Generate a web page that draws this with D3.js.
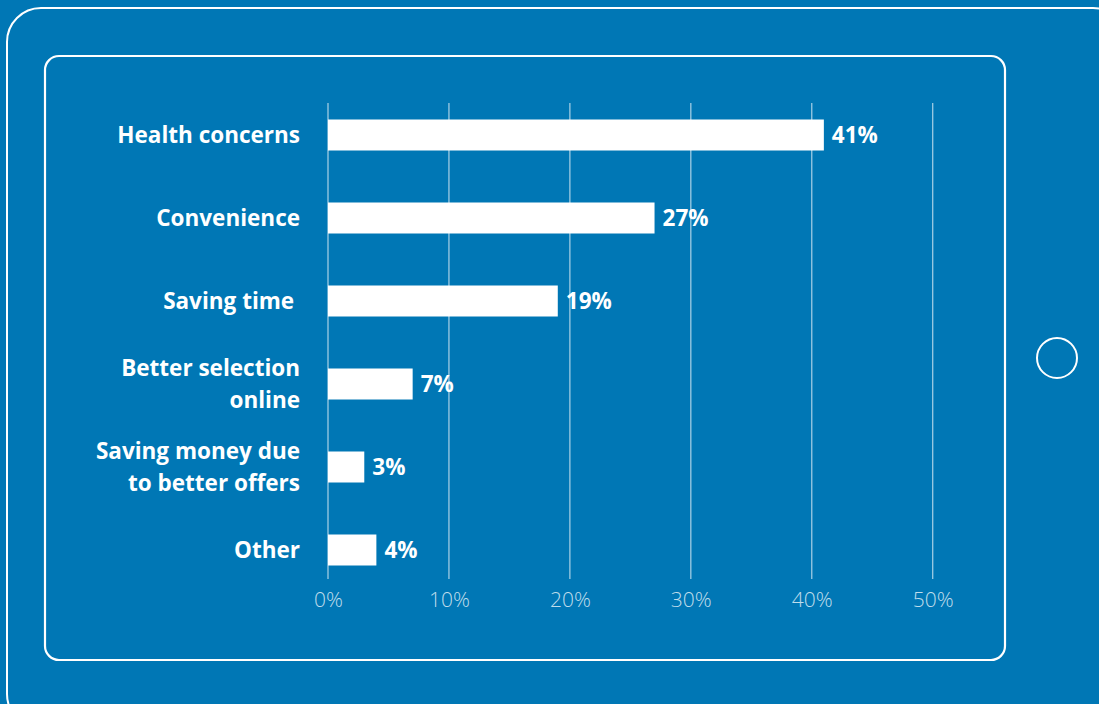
<!DOCTYPE html>
<html>
<head>
<meta charset="utf-8">
<script src="https://cdn.jsdelivr.net/npm/d3@7"></script>
<style>
  html, body { margin: 0; padding: 0; background: #0077b5; }
  svg { display: block; }
  text { font-family: "Open Sans", "Noto Sans", sans-serif; }
</style>
</head>
<body>
<svg id="chart" width="1099" height="704"></svg>
<script>
// Reasons for shopping online (share of respondents, %)
const categories = [
  ["Health concerns"],
  ["Convenience"],
  ["Saving time "],
  ["Better selection", "online"],
  ["Saving money due", "to better offers"],
  ["Other"]
];
const values = [41, 27, 19, 7, 3, 4];
const tickValues = [0, 10, 20, 30, 40, 50];
const tickFormat = d => d + "%";

const svg = d3.select("#chart");

// Tablet frame
svg.append("rect")
  .attr("x", 7).attr("y", 8)
  .attr("width", 1120).attr("height", 720)
  .attr("rx", 34)
  .attr("fill", "none").attr("stroke", "#fff").attr("stroke-width", 2);

svg.append("rect")
  .attr("x", 45).attr("y", 56)
  .attr("width", 960).attr("height", 604)
  .attr("rx", 14)
  .attr("fill", "none").attr("stroke", "#fff").attr("stroke-width", 2.2);

svg.append("circle")
  .attr("cx", 1057).attr("cy", 358).attr("r", 20)
  .attr("fill", "none").attr("stroke", "#fff").attr("stroke-width", 2);

// Scales
const x = d3.scaleLinear().domain([0, 50]).range([328, 932.7]);
const y = d3.scalePoint().domain(d3.range(categories.length)).range([135, 550]);
const barH = 31;
const gridTop = 103, gridBottom = 579;
const fontSize = 22.5;

// Gridlines
const g = svg.append("g");
g.selectAll("line.grid")
  .data(tickValues)
  .join("line")
  .attr("class", "grid")
  .attr("x1", d => x(d)).attr("x2", d => x(d))
  .attr("y1", gridTop).attr("y2", gridBottom)
  .attr("stroke", "rgba(255,255,255,0.62)")
  .attr("stroke-width", 1.3);

// Axis tick labels
const axis = d3.axisBottom(x).tickValues(tickValues).tickFormat(tickFormat).tickSize(0).tickPadding(0);
const axisG = svg.append("g").attr("transform", `translate(0, ${gridBottom})`).call(axis);
axisG.select(".domain").remove();
axisG.selectAll("text")
  .attr("dy", null)
  .attr("y", 28)
  .attr("fill", "rgba(255,255,255,0.75)")
  .attr("font-size", 21)
  .attr("font-weight", 300)
  .attr("font-family", "'Open Sans', sans-serif");

// Bars
g.selectAll("rect.bar")
  .data(values)
  .join("rect")
  .attr("class", "bar")
  .attr("x", x(0))
  .attr("y", (d, i) => y(i) - barH / 2)
  .attr("width", d => x(d) - x(0))
  .attr("height", barH)
  .attr("fill", "#fff");

// Value labels
g.selectAll("text.val")
  .data(values)
  .join("text")
  .attr("class", "val")
  .attr("x", d => x(d) + 8)
  .attr("y", (d, i) => y(i) + 8)
  .attr("fill", "#fff")
  .attr("font-size", fontSize)
  .attr("font-weight", 700)
  .text(d => d + "%");

// Category labels
const lineH = 32;
const labels = g.selectAll("text.cat")
  .data(categories)
  .join("text")
  .attr("class", "cat")
  .attr("text-anchor", "end")
  .attr("fill", "#fff")
  .attr("font-size", fontSize)
  .attr("font-weight", 700)
  .style("white-space", "pre");

labels.each(function(lines, i) {
  const t = d3.select(this);
  const y0 = y(i) + 8 - (lines.length - 1) * lineH / 2;
  lines.forEach((ln, k) => {
    t.append("tspan")
      .attr("x", 300)
      .attr("y", y0 + k * lineH)
      .text(ln);
  });
});
</script>
</body>
</html>
